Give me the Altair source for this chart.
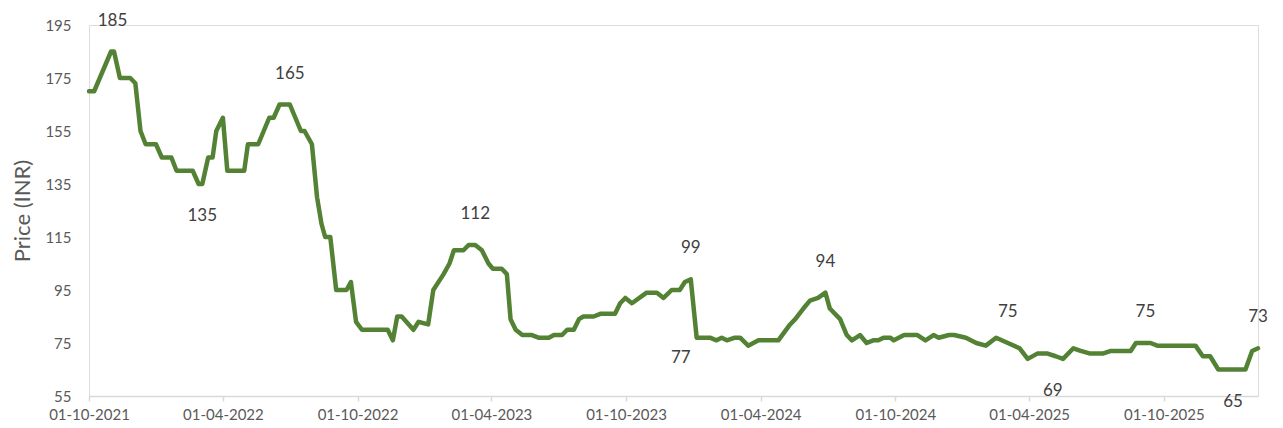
import altair as alt
import pandas as pd

# Price series (breakpoints)
dates = [
    "2021-10-01", "2021-10-08", "2021-10-31", "2021-11-04", "2021-11-12", "2021-11-26",
    "2021-12-03", "2021-12-10", "2021-12-17", "2021-12-31", "2022-01-08", "2022-01-21",
    "2022-01-28", "2022-02-19", "2022-02-27", "2022-03-04", "2022-03-12", "2022-03-18",
    "2022-03-23", "2022-04-01", "2022-04-07", "2022-04-30", "2022-05-05", "2022-05-19",
    "2022-06-03", "2022-06-09", "2022-06-17", "2022-07-01", "2022-07-16", "2022-07-21",
    "2022-07-31", "2022-08-07", "2022-08-13", "2022-08-18", "2022-08-25", "2022-09-02",
    "2022-09-16", "2022-09-22", "2022-09-29", "2022-10-07", "2022-11-11", "2022-11-18",
    "2022-11-24", "2022-11-30", "2022-12-16", "2022-12-23", "2023-01-05", "2023-01-12",
    "2023-01-26", "2023-02-03", "2023-02-09", "2023-02-22", "2023-03-01", "2023-03-10",
    "2023-03-19", "2023-03-28", "2023-04-03", "2023-04-15", "2023-04-22", "2023-04-27",
    "2023-05-04", "2023-05-13", "2023-05-26", "2023-06-04", "2023-06-18", "2023-06-25",
    "2023-07-06", "2023-07-13", "2023-07-22", "2023-07-29", "2023-08-04", "2023-08-18",
    "2023-08-27", "2023-09-16", "2023-09-23", "2023-09-30", "2023-10-09", "2023-10-29",
    "2023-11-12", "2023-11-21", "2023-12-02", "2023-12-13", "2023-12-20", "2023-12-28",
    "2024-01-05", "2024-01-23", "2024-02-01", "2024-02-08", "2024-02-15", "2024-02-26",
    "2024-03-04", "2024-03-15", "2024-03-29", "2024-04-25", "2024-05-11", "2024-05-18",
    "2024-05-29", "2024-06-07", "2024-06-18", "2024-06-28", "2024-07-04", "2024-07-18",
    "2024-07-27", "2024-08-03", "2024-08-14", "2024-08-23", "2024-09-01", "2024-09-08",
    "2024-09-15", "2024-09-24", "2024-09-29", "2024-10-13", "2024-10-31", "2024-11-11",
    "2024-11-22", "2024-11-29", "2024-12-13", "2024-12-20", "2025-01-05", "2025-01-19",
    "2025-02-01", "2025-02-15", "2025-03-03", "2025-03-19", "2025-03-30", "2025-04-12",
    "2025-04-26", "2025-05-07", "2025-05-17", "2025-05-31", "2025-06-10", "2025-06-23",
    "2025-07-10", "2025-07-21", "2025-08-17", "2025-08-24", "2025-09-13", "2025-09-22",
    "2025-11-13", "2025-11-23", "2025-12-03", "2025-12-14", "2026-01-20", "2026-01-29",
    "2026-02-06",
]
prices = [
    170, 170, 185, 185, 175, 175,
    173, 155, 150, 150, 145, 145,
    140, 140, 135, 135, 145, 145,
    155, 160, 140, 140, 150, 150,
    160, 160, 165, 165, 155, 155,
    150, 130, 120, 115, 115, 95,
    95, 98, 83, 80, 80, 76,
    85, 85, 80, 83, 82, 95,
    101, 105, 110, 110, 112, 112,
    110, 105, 103, 103, 101, 84,
    80, 78, 78, 77, 77, 78,
    78, 80, 80, 84, 85, 85,
    86, 86, 90, 92, 90, 94,
    94, 92, 95, 95, 98, 99,
    77, 77, 76, 77, 76, 77,
    77, 74, 76, 76, 82, 84,
    88, 91, 92, 94, 88, 84,
    78, 76, 78, 75, 76, 76,
    77, 77, 76, 78, 78, 76,
    78, 77, 78, 78, 77, 75,
    74, 77, 75, 73, 69, 71,
    71, 70, 69, 73, 72, 71,
    71, 72, 72, 75, 75, 74,
    74, 70, 70, 65, 65, 72,
    73,
]

# Data labels
above_dates = ["2021-11-02", "2022-07-01", "2023-03-10", "2023-12-28", "2024-06-28",
               "2025-03-03", "2025-09-06", "2026-02-06"]
above_values = [185, 165, 112, 99, 94, 75, 75, 73]
below_dates = ["2022-03-04", "2025-05-03", "2026-01-03"]
below_values = [135, 69, 65]
left_dates = ["2024-01-05"]
left_values = [77]

tick_dates = ["2021-10-01", "2022-04-01", "2022-10-01", "2023-04-01", "2023-10-01",
              "2024-04-01", "2024-10-01", "2025-04-01", "2025-10-01"]
y_ticks = [55, 75, 95, 115, 135, 155, 175, 195]

df = pd.DataFrame({"date": dates, "price": prices})
df_above = pd.DataFrame({"date": above_dates, "price": above_values})
df_below = pd.DataFrame({"date": below_dates, "price": below_values})
df_left = pd.DataFrame({"date": left_dates, "price": left_values})

FONT = "Lato"
GREEN = "#548235"


def to_dt(s):
    y, m, d = (int(p) for p in s.split("-"))
    return alt.DateTime(year=y, month=m, date=d, utc=True)


x_scale = alt.Scale(type="utc", domain=[to_dt("2021-10-01"), to_dt("2026-02-06")])
y_scale = alt.Scale(domain=[55, 195], nice=False, zero=False)

x_enc = alt.X(
    "date:T",
    scale=x_scale,
    axis=alt.Axis(
        values=[to_dt(d) for d in tick_dates],
        format="%d-%m-%Y",
        title=None,
        grid=False,
        domainColor="#d9d9d9",
        domainWidth=1.5,
        tickColor="#d9d9d9",
        tickWidth=1.5,
        tickSize=5,
        labelFont=FONT,
        labelFontSize=15,
        labelColor="#595959",
        labelPadding=6,
        labelFlush=False,
        labelOverlap=False,
    ),
)
y_enc = alt.Y(
    "price:Q",
    scale=y_scale,
    axis=alt.Axis(
        values=y_ticks,
        title="Price (INR)",
        titleFont=FONT,
        titleFontSize=22,
        titleFontWeight="normal",
        titleColor="#595959",
        titlePadding=10,
        grid=False,
        domain=False,
        ticks=False,
        labelFont=FONT,
        labelFontSize=15,
        labelColor="#595959",
        labelPadding=18,
    ),
)

line = alt.Chart(df).mark_line(color=GREEN, strokeWidth=4.5, strokeJoin="round",
                               strokeCap="round").encode(x=x_enc, y=y_enc)

text_style = dict(font=FONT, fontSize=17, color="#404040")
above = alt.Chart(df_above).mark_text(dy=-31, **text_style).encode(
    x="date:T", y="price:Q", text="price:Q")
below = alt.Chart(df_below).mark_text(dy=32, **text_style).encode(
    x="date:T", y="price:Q", text="price:Q")
left = alt.Chart(df_left).mark_text(dy=20, dx=-6, align="right", **text_style).encode(
    x="date:T", y="price:Q", text="price:Q")

chart = alt.layer(line, above, below, left).properties(
    width=1169,
    height=371,
    autosize=alt.AutoSizeParams(type="none"),
    padding={"left": 81, "top": 17, "right": 17, "bottom": 30},
).configure_view(stroke=None).configure(background="white")

chart.save("out.html", embed_options={"renderer": "svg", "actions": False})
